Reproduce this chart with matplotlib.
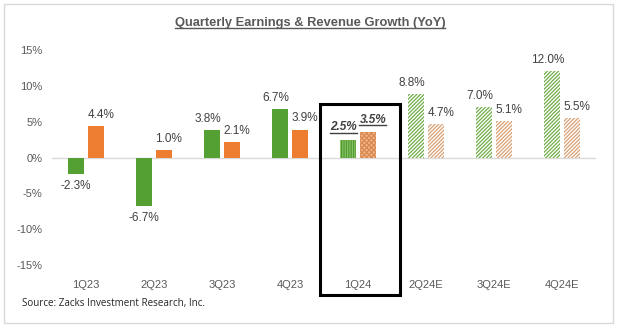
import matplotlib
matplotlib.use("Agg")
import numpy as np
import matplotlib.pyplot as plt
from matplotlib.patches import Rectangle
from matplotlib.lines import Line2D
from matplotlib.transforms import IdentityTransform

# данные
quarters = ['1Q23', '2Q23', '3Q23', '4Q23', '1Q24', '2Q24E', '3Q24E', '4Q24E']
earnings = [-2.3, -6.7, 3.8, 6.7, 2.5, 8.8, 7.0, 12.0]
revenue = [4.4, 1.0, 2.1, 3.9, 3.5, 4.7, 5.1, 5.5]
status = ['actual', 'actual', 'actual', 'actual', 'current', 'est', 'est', 'est']
y_ticks = [-15, -10, -5, 0, 5, 10, 15]

plt.rcParams['hatch.linewidth'] = 0.9

fig = plt.figure(figsize=(6.2, 3.28), dpi=100)
ax = fig.add_axes([0.0839, 0.192, 0.877, 0.6556])

x = np.arange(len(quarters))
w = 0.23
off = 0.148

green, orange = '#55a032', '#ed7d31'
label_col = '#404040'
tick_col = '#595959'

for i in x:
    e, r = earnings[i], revenue[i]
    if status[i] == 'actual':
        ax.bar(i - off, e, w, color=green, lw=0)
        ax.bar(i + off, r, w, color=orange, lw=0)
    elif status[i] == 'current':
        ax.bar(i - off, e, w, color='#8cc46a', edgecolor='#4f9a2c', hatch='|||||||', lw=0)
        ax.bar(i + off, r, w, color='#f0b488', edgecolor='#d9894f', hatch='xxxxxxx', lw=0)
    else:
        ax.bar(i - off, e, w, color='white', edgecolor='#70ad47', hatch='/////////', lw=0)
        ax.bar(i + off, r, w, color='white', edgecolor='#d9a074', hatch='/////////', lw=0)

# подписи значений
underlined = []
for i in x:
    for val, xo, dx in ((earnings[i], i - off, -3), (revenue[i], i + off, 3.5)):
        dy = 8 if val >= 0 else -9
        if status[i] == 'current':
            t = ax.annotate(f'{val:.1f}%', (xo, val), xytext=(dx, dy + 1),
                            textcoords='offset points', ha='center', va='center',
                            fontsize=8.5, color=label_col, fontweight='bold',
                            style='italic', family='Liberation Sans')
            underlined.append(t)
        else:
            ax.annotate(f'{val:.1f}%', (xo, val), xytext=(dx if val >= 0 else 0, dy),
                        textcoords='offset points', ha='center', va='center',
                        fontsize=8.5, color=label_col, family='Liberation Sans')

ax.axhline(0, color='#d9d9d9', lw=1, zorder=0)
ax.set_xlim(-0.5, len(quarters) - 0.5)
ax.set_ylim(-15, 15)
ax.set_yticks(y_ticks)
ax.set_yticklabels([f'{v}%' for v in y_ticks])
ax.set_xticks(x)
ax.set_xticklabels(quarters)
ax.tick_params(length=0, colors=tick_col, labelsize=8)
ax.tick_params(axis='y', pad=7)
ax.tick_params(axis='x', pad=11)
for lab in ax.get_xticklabels() + ax.get_yticklabels():
    lab.set_family('Liberation Sans')
for s in ax.spines.values():
    s.set_visible(False)

# рамка вокруг 1Q24
ax.add_patch(Rectangle((3.44, -19.2), 1.18, 26.6, fill=False, ec='black',
                       lw=2.2, clip_on=False, zorder=5))

title = fig.text(0.5, 0.93, 'Quarterly Earnings & Revenue Growth (YoY)',
                 ha='center', va='center', fontsize=9.3, fontweight='bold',
                 color=tick_col, family='Liberation Sans')
underlined.append(title)

fig.text(0.0355, 0.076, 'Source: Zacks Investment Research, Inc.', ha='left',
         va='center', fontsize=7.1, color='#262626', family='Open Sans')

# внешняя рамка
fig.add_artist(Rectangle((0.0065, 0.0152), 0.9822, 0.9726, fill=False,
                         ec='#d9d9d9', lw=1, transform=fig.transFigure))

# подчёркивание
fig.canvas.draw()
r = fig.canvas.get_renderer()
for t in underlined:
    bb = t.get_window_extent(r)
    fig.add_artist(Line2D([bb.x0, bb.x1], [bb.y0 + 0.5, bb.y0 + 0.5],
                          transform=IdentityTransform(), color=t.get_color(), lw=1))

fig.savefig('out.png', dpi=100)
